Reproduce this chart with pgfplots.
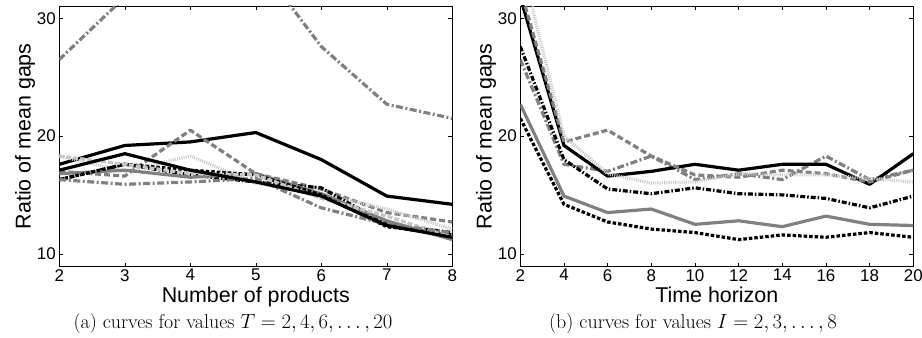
\documentclass[border=0pt]{standalone}
\usepackage{pgfplots}
\pgfplotsset{compat=1.18}
\usepackage{pgfplotstable}
\usepackage{fontspec}
\setsansfont{Liberation Sans}
\definecolor{mgray}{gray}{0.5}
\definecolor{lgray}{gray}{0.78}

% Right panel: rows T, columns I=2..8
\pgfplotstableread{
T I2 I3 I4 I5 I6 I7 I8
2 26.5 31.8 32.5 35.0 27.6 22.7 21.5
4 17.6 19.2 19.5 20.0 18.0 14.9 14.2
6 17.0 16.6 20.5 16.8 15.5 13.5 12.7
8 18.3 17.0 18.3 16.0 15.1 13.8 12.1
10 16.3 17.6 16.7 16.1 15.6 12.5 11.8
12 16.8 17.1 16.5 16.8 15.1 12.8 11.2
14 16.3 17.6 17.1 16.7 15.0 12.3 11.6
16 18.3 17.6 16.8 16.7 14.7 13.2 11.4
18 16.3 15.9 16.1 16.4 13.9 12.5 11.8
20 17.1 18.5 17.1 16.1 14.9 12.4 11.4
}\tabT

% Left panel: rows I, columns T=2..20
\pgfplotstableread{
I T2 T4 T6 T8 T10 T12 T14 T16 T18 T20
2 26.5 17.6 17.0 18.3 16.3 16.8 16.3 18.3 16.3 17.1
3 31.8 19.2 16.6 17.0 17.6 17.1 17.6 17.6 15.9 18.5
4 32.5 19.5 20.5 18.3 16.7 16.5 17.1 16.8 16.1 17.1
5 35.0 20.3 16.8 16.0 16.1 16.8 16.7 16.7 16.4 16.1
6 27.6 18.0 15.5 15.1 15.6 15.1 15.0 14.7 13.9 14.9
7 22.7 14.9 13.5 13.8 12.5 12.8 12.3 13.2 12.5 12.4
8 21.5 14.2 12.7 12.1 11.8 11.2 11.6 11.4 11.8 11.4
}\tabI

\tikzset{
  sGDD/.style={mgray, line width=3.2bp, dash pattern=on 7bp off 2.5bp on 2bp off 2.5bp},
  sKS/.style={black, line width=3.2bp},
  sGD/.style={mgray, line width=3.2bp, dash pattern=on 6bp off 3bp},
  sLD/.style={lgray, line width=3.2bp, dash pattern=on 1bp off 1.2bp},
  sKDD/.style={black, line width=3.2bp, dash pattern=on 5bp off 2bp on 1.5bp off 2bp},
  sGS/.style={mgray, line width=3.2bp},
  sKD/.style={black, line width=3.2bp, dash pattern=on 3.5bp off 2bp},
  sLX/.style={lgray, line width=3.2bp, dash pattern=on 5bp off 2bp},
}

\pgfplotsset{
  myax/.style={
    scale only axis, width=393bp, height=260.7bp, anchor=south west,
    ymin=8.9, ymax=31.05, ytick={10,20,30},
    tick align=inside, major tick length=4bp,
    every tick/.style={black, line width=0.5bp},
    axis line style={black, line width=0.8bp},
    ticklabel style={font=\sffamily\fontsize{17}{18}\selectfont},
    xticklabel style={yshift=1bp},
    /pgf/number format/assume math mode=true,
    every axis plot/.append style={line join=round},
  }
}

\begin{document}
\begin{tikzpicture}
\path[use as bounding box] (0,0) rectangle (922bp,338bp);

\begin{axis}[myax, at={(59.3bp,71.3bp)}, xmin=2, xmax=8, xtick={2,3,4,5,6,7,8}]
\addplot[sGDD] table[x=I,y=T2] {\tabI};
\addplot[sKS] table[x=I,y=T4] {\tabI};
\addplot[sGD] table[x=I,y=T6] {\tabI};
\addplot[sLD] table[x=I,y=T8] {\tabI};
\addplot[sKDD] table[x=I,y=T10] {\tabI};
\addplot[sGS] table[x=I,y=T12] {\tabI};
\addplot[sKD] table[x=I,y=T14] {\tabI};
\addplot[sLX] table[x=I,y=T16] {\tabI};
\addplot[sGDD] table[x=I,y=T18] {\tabI};
\addplot[sKS] table[x=I,y=T20] {\tabI};
\end{axis}

\begin{axis}[myax, at={(520.3bp,71.3bp)}, xmin=2, xmax=20, xtick={2,4,...,20}]
\addplot[sGDD] table[x=T,y=I2] {\tabT};
\addplot[sKS] table[x=T,y=I3] {\tabT};
\addplot[sGD] table[x=T,y=I4] {\tabT};
\addplot[sLD] table[x=T,y=I5] {\tabT};
\addplot[sKDD] table[x=T,y=I6] {\tabT};
\addplot[sGS] table[x=T,y=I7] {\tabT};
\addplot[sKD] table[x=T,y=I8] {\tabT};
\end{axis}

\begin{scope}[every node/.style={inner sep=0pt}]
\node[rotate=90, font=\sffamily\fontsize{21.5}{22}\selectfont] at (25bp,201.7bp) {Ratio of mean gaps};
\node[rotate=90, font=\sffamily\fontsize{21.5}{22}\selectfont] at (486bp,201.7bp) {Ratio of mean gaps};
\node[anchor=base, font=\sffamily\fontsize{21.5}{22}\selectfont] at (255.8bp,36bp) {Number of products};
\node[anchor=base, font=\sffamily\fontsize{21.5}{22}\selectfont] at (716.8bp,36bp) {Time horizon};
\node[anchor=base, font=\fontsize{20}{22}\selectfont] at (233bp,10bp) {(a) curves for values $T=2,4,6,\ldots,20$};
\node[anchor=base, font=\fontsize{20}{22}\selectfont] at (693bp,10bp) {(b) curves for values $I=2,3,\ldots,8$};
\end{scope}
\end{tikzpicture}
\end{document}
